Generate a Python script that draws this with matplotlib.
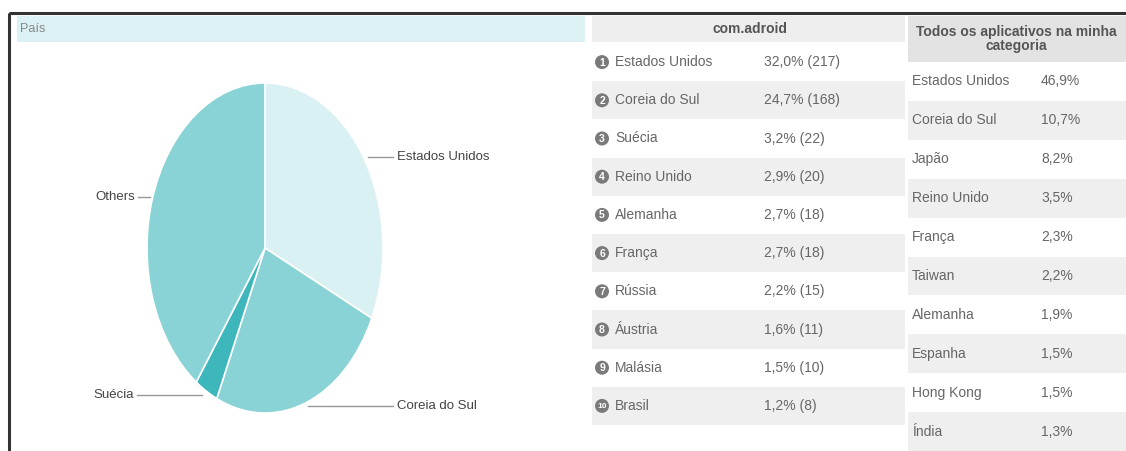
import matplotlib
matplotlib.use("Agg")
import matplotlib.pyplot as plt
from matplotlib.patches import Rectangle, Circle

plt.rcParams['font.family'] = ['Liberation Sans', 'DejaVu Sans']

# pie: share of installs by country
pie_labels = ['Estados Unidos', 'Coreia do Sul', 'Suécia', 'Others']
pie_values = [32.0, 24.7, 3.2, 40.1]
pie_colors = ['#daf1f3', '#89d3d6', '#3db7bc', '#89d3d6']

# table 1: com.adroid
app_countries = ['Estados Unidos', 'Coreia do Sul', 'Suécia', 'Reino Unido', 'Alemanha',
                 'França', 'Rússia', 'Áustria', 'Malásia', 'Brasil']
app_pct = [32.0, 24.7, 3.2, 2.9, 2.7, 2.7, 2.2, 1.6, 1.5, 1.2]
app_counts = [217, 168, 22, 20, 18, 18, 15, 11, 10, 8]

# table 2: all apps in the category
cat_countries = ['Estados Unidos', 'Coreia do Sul', 'Japão', 'Reino Unido', 'França',
                 'Taiwan', 'Alemanha', 'Espanha', 'Hong Kong', 'Índia']
cat_pct = [46.9, 10.7, 8.2, 3.5, 2.3, 2.2, 1.9, 1.5, 1.5, 1.3]

W, H = 1126, 451
fig = plt.figure(figsize=(W / 100, H / 100), dpi=100)
ax = fig.add_axes([0, 0, 1, 1])
ax.set_xlim(0, W)
ax.set_ylim(H, 0)
ax.axis('off')

txt = '#666666'
band = '#efefef'


def pct(v):
    return f'{v:.1f}'.replace('.', ',') + '%'


# outer frame
ax.add_patch(Rectangle((9, 13), W, H, fill=False, edgecolor='#333333', lw=2.2))

# header strips
ax.add_patch(Rectangle((17, 16), 568, 26, facecolor='#dcf1f4', edgecolor='none'))
ax.text(20, 29, 'País', fontsize=9, color='#888888', va='center')
ax.add_patch(Rectangle((592, 16), 313, 26, facecolor='#eeeeee', edgecolor='none'))
ax.text(750, 29, 'com.adroid', fontsize=10, color='#555555', va='center', ha='center',
        fontweight='bold')
ax.add_patch(Rectangle((908, 16), 230, 46, facecolor='#e3e3e3', edgecolor='none'))
ax.text(1016, 39, 'Todos os aplicativos na minha\ncategoria', fontsize=10, color='#555555',
        va='center', ha='center', fontweight='bold', linespacing=1.05)

# table 1
row_h1 = 38.2
for i, (c, p, n) in enumerate(zip(app_countries, app_pct, app_counts)):
    y0 = 43 + i * row_h1
    yc = y0 + row_h1 / 2
    if i % 2 == 1:
        ax.add_patch(Rectangle((592, y0), 313, row_h1, facecolor=band, edgecolor='none'))
    ax.add_patch(Circle((602, yc), 7, facecolor='#7a7a7a', edgecolor='none'))
    ax.text(602, yc + 0.5, str(i + 1), fontsize=7.5 if i < 9 else 6, color='white',
            ha='center', va='center', fontweight='bold')
    ax.text(615, yc, c, fontsize=10, color=txt, va='center')
    ax.text(764, yc, f'{pct(p)} ({n})', fontsize=10, color=txt, va='center')

# table 2
row_h2 = 38.9
for i, (c, p) in enumerate(zip(cat_countries, cat_pct)):
    y0 = 62 + i * row_h2
    yc = y0 + row_h2 / 2
    if i % 2 == 1:
        ax.add_patch(Rectangle((908, y0), 230, row_h2, facecolor=band, edgecolor='none'))
    ax.text(912, yc, c, fontsize=10, color=txt, va='center')
    ax.text(1041, yc, pct(p), fontsize=10, color=txt, va='center')

# pie, stretched into an ellipse
pax = fig.add_axes([147 / W, (H - 413) / H, 236 / W, 330 / H])
pax.pie(pie_values, colors=pie_colors, startangle=90, counterclock=False,
        wedgeprops=dict(edgecolor='white', linewidth=1.2))
pax.set_aspect('auto')
pax.set_xlim(-1, 1)
pax.set_ylim(-1, 1)
pax.axis('off')

# leader lines and labels
leaders = {
    'Estados Unidos': ((368, 393), 157, 'left'),
    'Coreia do Sul': ((308, 393), 406, 'left'),
    'Suécia': ((137, 202), 395, 'right'),
    'Others': ((138, 150), 197, 'right'),
}
for name in pie_labels:
    (xa, xb), y, side = leaders[name]
    ax.plot([xa, xb], [y, y], color='#999999', lw=1, zorder=5)
    if side == 'left':
        ax.text(xb + 4, y, name, fontsize=9.5, color='#444444', va='center', ha='left')
    else:
        ax.text(xa - 3, y, name, fontsize=9.5, color='#444444', va='center', ha='right')

fig.savefig('out.png', dpi=100)
